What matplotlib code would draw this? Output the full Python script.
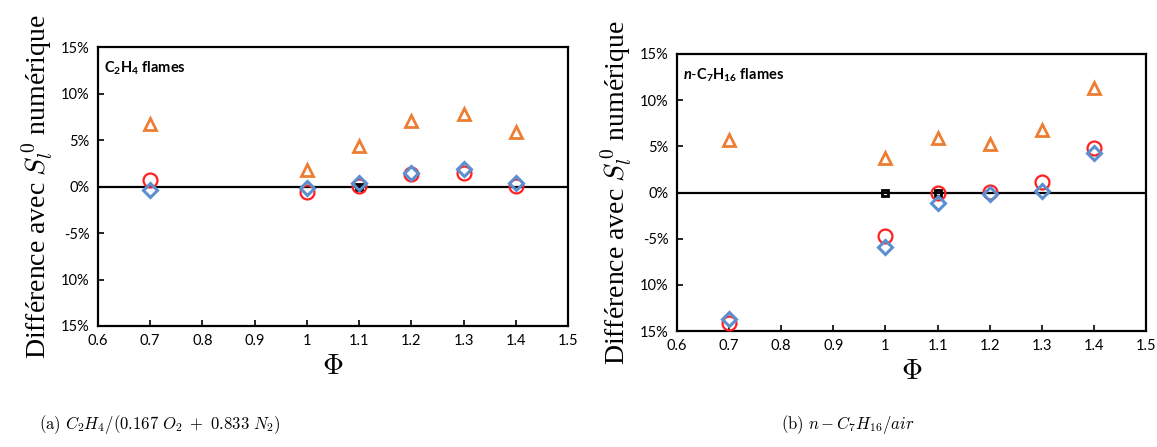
import numpy as np
import matplotlib
matplotlib.use("Agg")
import matplotlib.pyplot as plt

# equivalence ratios
phi = [0.7, 1.0, 1.1, 1.2, 1.3, 1.4]

# (a) C2H4 flames, difference in %
c2h4_tri = [6.7, 1.8, 4.4, 7.0, 7.8, 5.9]
c2h4_circ = [0.7, -0.6, 0.1, 1.4, 1.5, 0.1]
c2h4_diam = [-0.4, -0.2, 0.4, 1.5, 1.9, 0.4]
c2h4_sq_x = [1.1]
c2h4_sq = [0.0]

# (b) n-C7H16 flames, difference in %
c7_tri = [5.7, 3.7, 5.9, 5.3, 6.8, 11.3]
c7_circ = [-14.1, -4.7, 0.0, 0.1, 1.1, 4.8]
c7_diam = [-13.7, -5.9, -1.1, -0.2, 0.2, 4.3]
c7_sq_x = [1.0, 1.1]
c7_sq = [0.0, 0.0]

yticks = [-15, -10, -5, 0, 5, 10, 15]
ytick_labels = ["15%", "10%", "-5%", "0%", "5%", "10%", "15%"]
xticks = [0.6, 0.7, 0.8, 0.9, 1.0, 1.1, 1.2, 1.3, 1.4, 1.5]
xtick_labels = ["0.6", "0.7", "0.8", "0.9", "1", "1.1", "1.2", "1.3", "1.4", "1.5"]

plt.rcParams['mathtext.fontset'] = 'cm'
# sans fonts for the in-panel titles (used through math_fontfamily='custom')
plt.rcParams['mathtext.rm'] = 'Lato'
plt.rcParams['mathtext.bf'] = 'Lato:bold'
plt.rcParams['mathtext.it'] = 'Lato:italic'
plt.rcParams['mathtext.bfit'] = 'Lato:italic:bold'

fig = plt.figure(figsize=(11.57, 4.47), dpi=100)
axl = fig.add_axes([0.0847, 0.2707, 0.4062, 0.624])
axr = fig.add_axes([0.5851, 0.2595, 0.4054, 0.6197])

orange = "#ED7D31"
red = "#FF2020"
blue = "#5B8FD0"


def draw(ax, tri, circ, diam, sqx, sq, title):
    ax.axhline(0, color="black", lw=1.6, zorder=1)
    ax.plot(sqx, sq, "s", ms=5, mfc="none", mec="black", mew=2, zorder=2)
    ax.plot(phi, tri, "^", ms=9, mfc="none", mec=orange, mew=2, zorder=3)
    ax.plot(phi, circ, "o", ms=10, mfc="none", mec=red, mew=1.6, zorder=4)
    ax.plot(phi, diam, "D", ms=7.5, mfc="none", mec=blue, mew=2.2, zorder=5)
    ax.set_xlim(0.6, 1.5)
    ax.set_ylim(-15, 15)
    ax.set_xticks(xticks)
    ax.set_xticklabels(xtick_labels)
    ax.set_yticks(yticks)
    ax.set_yticklabels(ytick_labels)
    ax.tick_params(direction="in", length=4, width=1.2, labelsize=10.5, pad=6)
    for lab in ax.get_xticklabels() + ax.get_yticklabels():
        lab.set_family("Lato")
    for s in ax.spines.values():
        s.set_linewidth(1.6)
    ax.text(0.012, 0.955, title, transform=ax.transAxes, fontsize=10.5,
            fontweight="bold", family="Lato", va="top", ha="left",
            math_fontfamily="custom")
    ax.set_ylabel(r"Différence avec $\mathit{S_l^{\,0}}$ numérique",
                  family="Liberation Serif", fontsize=20, labelpad=4)
    ax.set_xlabel(r"$\Phi$", fontsize=21, labelpad=3)


draw(axl, c2h4_tri, c2h4_circ, c2h4_diam, c2h4_sq_x, c2h4_sq,
     r"$\mathbf{C_2H_4}$ flames")
draw(axr, c7_tri, c7_circ, c7_diam, c7_sq_x, c7_sq,
     r"$\mathbfit{n}\mathbf{\text{-}C_7H_{16}}$ flames")

fig.text(0.138, 0.04, r"$\mathrm{(a)}\ C_2H_4/(0.167\ O_2\ +\ 0.833\ N_2)$",
         fontsize=12, ha="center")
fig.text(0.733, 0.04, r"$\mathrm{(b)}\ n-C_7H_{16}/air$",
         fontsize=12, ha="center")

fig.savefig("out.png", dpi=100)
